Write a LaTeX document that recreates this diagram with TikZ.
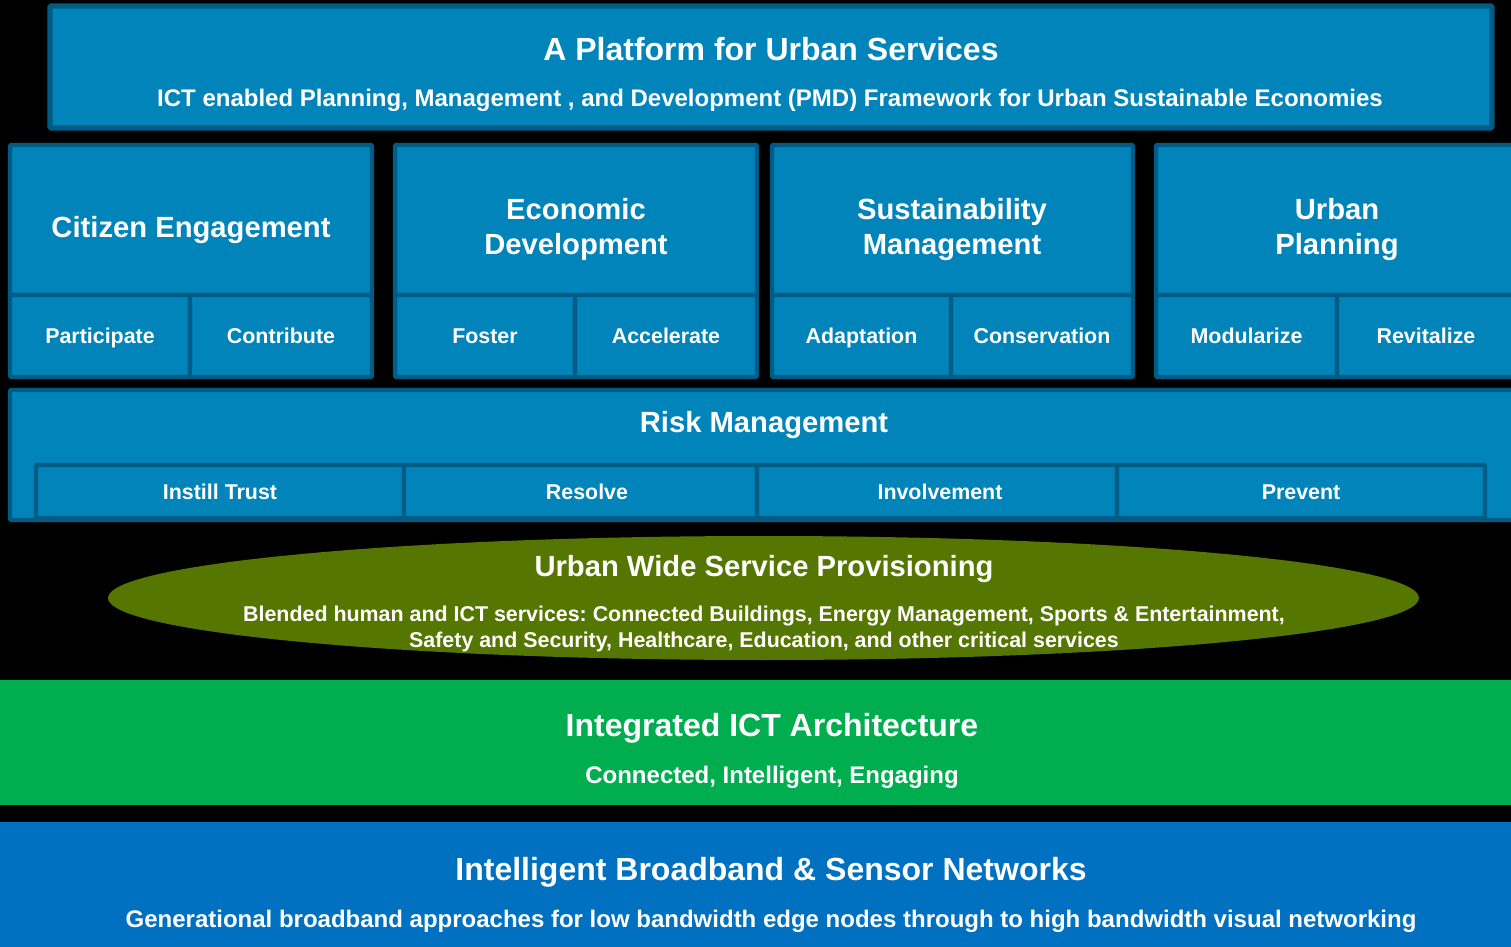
\documentclass[tikz,border=0pt]{standalone}
\usepackage{fontspec}
\setmainfont{Liberation Sans}
\usetikzlibrary{fit,shapes.geometric}
\frenchspacing

\definecolor{cellblue}{HTML}{0084BA}
\definecolor{cellline}{HTML}{005C85}
\definecolor{olivegreen}{HTML}{557600}
\definecolor{ictgreen}{HTML}{00AE50}
\definecolor{netblue}{HTML}{0070C0}

\begin{document}
\begin{tikzpicture}[x=0.5pt, y=-0.5pt,
    cell/.style={draw=cellline, fill=cellblue, line width=2.2pt, rounded corners=0.6pt, inner sep=0pt},
    band/.style={fill=#1, inner sep=0pt},
    head/.style={text=white, align=center, yshift=-1.8pt, font=\fontsize{14.6}{17.5}\selectfont\bfseries},
    sub/.style={text=white, text height=0.75em, text depth=0.2em, yshift=-1.2pt, font=\fontsize{10.7}{12}\selectfont\bfseries},
    title/.style={text=white, text height=0.75em, text depth=0.2em, yshift=-3pt, font=\fontsize{16}{19}\selectfont\bfseries},
    subtitle/.style={text=white, text height=0.75em, text depth=0.2em, yshift=-1.8pt, font=\fontsize{12}{14}\selectfont\bfseries}]
    \useasboundingbox (0,0) rectangle (1511,947);
    \fill[black] (0,0) rectangle (1511,947);
    \clip (0,0) rectangle (1511,947);
    % platform box
    \node[cell, line width=2.6pt, fit={(50,6) (1492,128)}] (platform) {};
    \node[title] (platformT) at (771,49) {A Platform for Urban Services};
    \node[subtitle] (platformS) at (770,97) {ICT enabled Planning, Management , and Development (PMD) Framework for Urban Sustainable Economies};
    % four columns
    \node[cell, fit={(10,145) (372,295)}] (ce) {};
    \node[cell, fit={(10,295) (190,377)}] (ce1) {};
    \node[cell, fit={(190,295) (372,377)}] (ce2) {};
    \node[cell, fit={(395,145) (757,295)}] (ed) {};
    \node[cell, fit={(395,295) (575,377)}] (ed1) {};
    \node[cell, fit={(575,295) (757,377)}] (ed2) {};
    \node[cell, fit={(772,145) (1133,295)}] (sm) {};
    \node[cell, fit={(772,295) (951,377)}] (sm1) {};
    \node[cell, fit={(951,295) (1133,377)}] (sm2) {};
    \node[cell, fit={(1156,145) (1530,295)}] (up) {};
    \node[cell, fit={(1156,295) (1337,377)}] (up1) {};
    \node[cell, fit={(1337,295) (1530,377)}] (up2) {};
    \node[head] (ceT) at (191,226) {Citizen Engagement};
    \node[head] (edT) at (576,226) {Economic\\Development};
    \node[head] (smT) at (952,226) {Sustainability\\Management};
    \node[head] (upT) at (1337,226) {Urban\\Planning};
    \node[sub] (ce1T) at (ce1) {Participate};
    \node[sub] (ce2T) at (ce2) {Contribute};
    \node[sub] (ed1T) at (ed1) {Foster};
    \node[sub] (ed2T) at (ed2) {Accelerate};
    \node[sub] (sm1T) at (sm1) {Adaptation};
    \node[sub] (sm2T) at (sm2) {Conservation};
    \node[sub] (up1T) at (up1) {Modularize};
    \node[sub] (up2T) at (1426,336) {Revitalize};
    % risk management
    \node[cell, fit={(10,390) (1530,520)}] (risk) {};
    \node[head] (riskT) at (764,421) {Risk Management};
    \node[cell, fit={(36,465) (404,518)}] (rk1) {};
    \node[cell, fit={(404,465) (757,518)}] (rk2) {};
    \node[cell, fit={(757,465) (1117,518)}] (rk3) {};
    \node[cell, fit={(1117,465) (1485,518)}] (rk4) {};
    \node[sub] (rk1T) at (rk1) {Instill Trust};
    \node[sub] (rk2T) at (587,491.5) {Resolve};
    \node[sub] (rk3T) at (940,491.5) {Involvement};
    \node[sub] (rk4T) at (rk4) {Prevent};
    % service provisioning
    \node[ellipse, fill=olivegreen, minimum width=655.5pt, minimum height=62pt, inner sep=0pt] (uwsp) at (763.5,598) {};
    \node[head] (uwspT) at (764,565) {Urban Wide Service Provisioning};
    \node[sub, text height=, text depth=, yshift=0.2pt, align=center, font=\fontsize{10.7}{13}\selectfont\bfseries] (uwspS) at (764,627) {Blended human and ICT services: Connected Buildings, Energy Management, Sports \& Entertainment,\\Safety and Security, Healthcare, Education, and other critical services};
    % bottom bands
    \node[band=ictgreen, fit={(0,680) (1511,805)}] (ict) {};
    \node[title] (ictT) at (772,725) {Integrated ICT Architecture};
    \node[subtitle] (ictS) at (772,774) {Connected, Intelligent, Engaging};
    \node[band=netblue, fit={(0,822) (1511,947)}] (net) {};
    \node[title] (netT) at (771,869) {Intelligent Broadband \& Sensor Networks};
    \node[subtitle] (netS) at (771,918) {Generational broadband approaches for low bandwidth edge nodes through to high bandwidth visual networking};
\end{tikzpicture}
\end{document}
